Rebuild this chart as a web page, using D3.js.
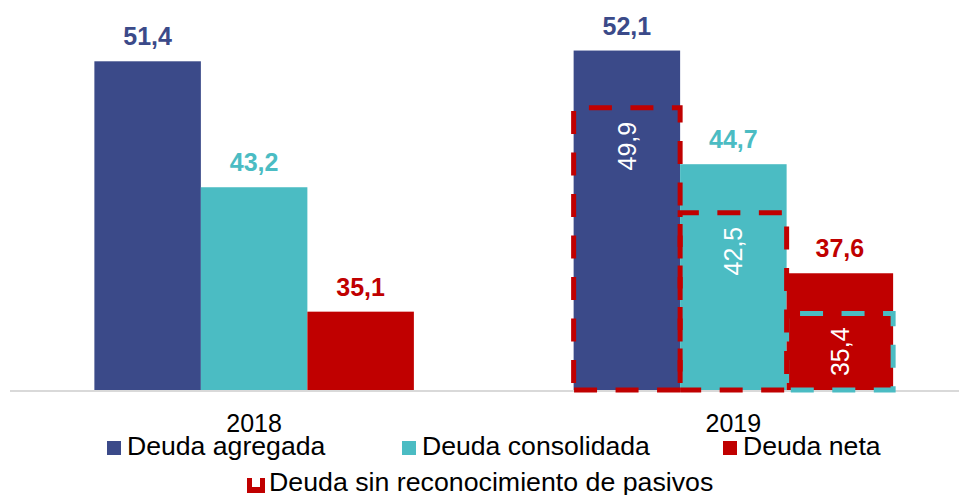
<!DOCTYPE html>
<html>
<head>
<meta charset="utf-8">
<script src="https://cdn.jsdelivr.net/npm/d3@7"></script>
<style>
  body { margin: 0; background: #fff; }
  text { font-family: "Liberation Sans", Arial, sans-serif; }
</style>
</head>
<body>
<div class="viz"></div>
<script>
var years = ['2018', '2019'];
var seriesNames = ['Deuda agregada', 'Deuda consolidada', 'Deuda neta'];
var agregada = [51.4, 52.1];
var consolidada = [43.2, 44.7];
var neta = [35.1, 37.6];

// serie secundaria, solo en 2019
var sinPasivosName = 'Deuda sin reconocimiento de pasivos';
var sinPasivosYear = '2019';
var sinPasivos = [49.9, 42.5, 35.4];

var colors = ['#3B4A89', '#4BBCC3', '#C00000'];
var dashColors = ['#C00000', '#C00000', '#4BBCC3'];

var width = 959,
    height = 495,
    baseY = 390;

var fmt = d3.formatLocale({decimal: ',', thousands: '.', grouping: [3], currency: ['', '']}).format('.1f');

var svg = d3.select('.viz').append('svg')
    .attr('width', width)
    .attr('height', height);

var x0 = d3.scaleBand()
    .domain(years)
    .range([14.5, 973])
    .paddingInner(1 / 3)
    .paddingOuter(1 / 6);

var x1 = d3.scaleBand()
    .domain(seriesNames)
    .range([0, x0.bandwidth()]);

var y = d3.scaleLinear().domain([30, 55]).range([baseY, 6]);
var y2 = d3.scaleLinear().domain([30, 57.5]).range([baseY, 0]);

var seriesValues = [agregada, consolidada, neta];

// axis line
svg.append('line')
    .attr('x1', 10).attr('x2', width)
    .attr('y1', baseY + 1).attr('y2', baseY + 1)
    .attr('stroke', '#D9D9D9')
    .attr('stroke-width', 2);

var bars = [];
years.forEach(function(yr, i) {
    seriesNames.forEach(function(s, j) {
        bars.push({year: yr, series: s, idx: j, value: seriesValues[j][i]});
    });
});

svg.append('g').selectAll('rect')
    .data(bars)
    .enter().append('rect')
    .attr('x', d => x0(d.year) + x1(d.series))
    .attr('y', d => y(d.value))
    .attr('width', x1.bandwidth())
    .attr('height', d => baseY - y(d.value))
    .attr('fill', d => colors[d.idx]);

svg.append('g').selectAll('text')
    .data(bars)
    .enter().append('text')
    .attr('x', d => x0(d.year) + x1(d.series) + x1.bandwidth() / 2)
    .attr('y', d => y(d.value) - 16)
    .attr('text-anchor', 'middle')
    .attr('font-size', 25)
    .attr('font-weight', 'bold')
    .attr('fill', d => colors[d.idx])
    .text(d => fmt(d.value));

// dashed outline bars (secondary axis)
var dashed = sinPasivos.map(function(v, j) {
    return {series: seriesNames[j], idx: j, value: v};
});

svg.append('g').selectAll('path')
    .data(dashed.slice().reverse())
    .enter().append('path')
    .attr('d', function(d) {
        var xl = x0(sinPasivosYear) + x1(d.series),
            xr = xl + x1.bandwidth(),
            yt = y2(d.value);
        return 'M' + xl + ',' + baseY + 'V' + yt + 'H' + xr + 'V' + baseY + 'Z';
    })
    .attr('fill', 'none')
    .attr('stroke', d => dashColors[d.idx])
    .attr('stroke-width', 5)
    .attr('stroke-dasharray', '23,18.5')
    .attr('stroke-dashoffset', -7);

svg.append('g').selectAll('text')
    .data(dashed)
    .enter().append('text')
    .attr('transform', function(d) {
        var cx = x0(sinPasivosYear) + x1(d.series) + x1.bandwidth() / 2;
        return 'translate(' + cx + ',' + (y2(d.value) + 14) + ')rotate(-90)';
    })
    .attr('dy', '0.36em')
    .attr('text-anchor', 'end')
    .attr('font-size', 25)
    .attr('fill', '#fff')
    .text(d => fmt(d.value));

// category labels
svg.append('g').selectAll('text')
    .data(years)
    .enter().append('text')
    .attr('x', d => x0(d) + x0.bandwidth() / 2)
    .attr('y', 432)
    .attr('text-anchor', 'middle')
    .attr('font-size', 25)
    .attr('fill', '#000')
    .text(d => d);

// legend (text slightly wider than plain Arial in the original)
var legendX = [107, 402, 723];
var legend = svg.append('g');
seriesNames.forEach(function(s, j) {
    legend.append('rect')
        .attr('x', legendX[j]).attr('y', 441)
        .attr('width', 14).attr('height', 14)
        .attr('fill', colors[j]);
    legend.append('text')
        .attr('transform', 'translate(' + (legendX[j] + 20) + ',455)scale(1.065,1)')
        .attr('font-size', 25)
        .attr('fill', '#000')
        .text(s);
});

legend.append('rect')
    .attr('x', 247).attr('y', 478)
    .attr('width', 18).attr('height', 15)
    .attr('fill', '#C00000');
legend.append('rect')
    .attr('x', 252).attr('y', 478)
    .attr('width', 8).attr('height', 9)
    .attr('fill', '#fff');
legend.append('text')
    .attr('transform', 'translate(269,491)scale(1.07,1)')
    .attr('font-size', 25)
    .attr('fill', '#000')
    .text(sinPasivosName);
</script>
</body>
</html>
